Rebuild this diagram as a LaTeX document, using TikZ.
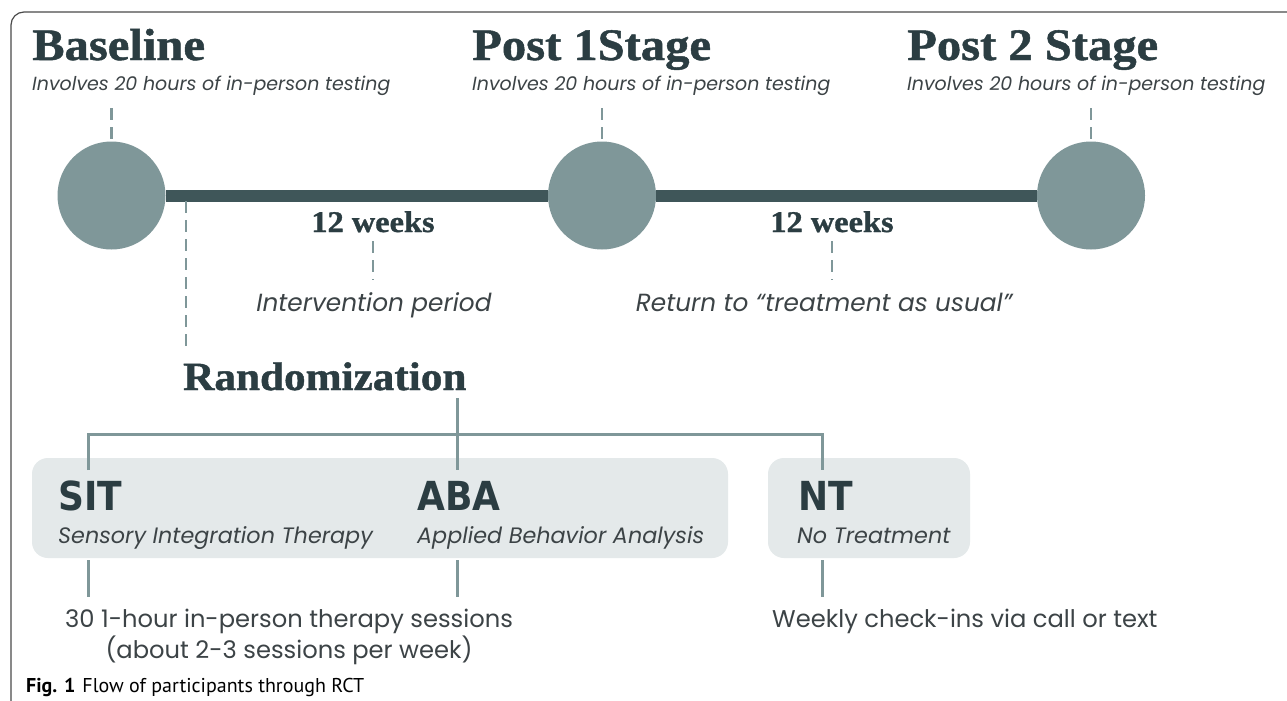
\documentclass[tikz,border=0pt]{standalone}
\usepackage{fontspec}
\setmainfont{Liberation Serif}
\setsansfont{Poppins}
\newfontfamily\headfont[FakeStretch=1.08,FakeBold=1.1]{Liberation Serif Bold}
\newfontfamily\armfont{DejaVu Sans Condensed Bold}
\newfontfamily\capfont{PT Sans}
\usetikzlibrary{positioning}

\definecolor{inkdark}{HTML}{2B3D42}
\definecolor{inkgray}{HTML}{3C4346}
\definecolor{dotgray}{HTML}{7F9799}
\definecolor{linedark}{HTML}{3F5659}
\definecolor{boxgray}{HTML}{E4E9EA}
\definecolor{framegray}{HTML}{4A4A4A}

\tikzset{
  stagehead/.style={font=\headfont\fontsize{45}{50}\selectfont, text=inkdark, anchor=base west, inner sep=0pt},
  stagenote/.style={font=\sffamily\itshape\fontsize{19}{23}\selectfont, text=inkgray, anchor=base west, inner sep=0pt},
  weeks/.style={font=\headfont\fontsize{30}{34}\selectfont, text=inkdark, anchor=base, inner sep=0pt},
  period/.style={stagenote, font=\sffamily\itshape\fontsize{24.8}{28}\selectfont, anchor=base},
  armhead/.style={font=\armfont\fontsize{40}{44}\selectfont, text=inkdark, anchor=base west, inner sep=0pt},
  armnote/.style={font=\sffamily\itshape\fontsize{22.3}{26}\selectfont, text=inkgray, anchor=base west, inner sep=0pt},
  armplan/.style={font=\sffamily\fontsize{24.2}{31}\selectfont, text=inkgray, inner sep=0pt},
  stagedot/.style={circle, fill=dotgray, minimum size=108pt, inner sep=0pt},
  timeline/.style={draw=linedark, line width=12pt},
  tick/.style={draw=dotgray, line width=2.6pt, dash pattern=on 12pt off 7pt},
  branch/.style={draw=dotgray, line width=3pt},
  armbox/.style={fill=boxgray, rounded corners=16pt, inner sep=0pt},
}

\begin{document}
\begin{tikzpicture}[x=1pt,y=-1pt]
  \useasboundingbox (0,0) rectangle (1287,701);
  \fill[white] (0,0) rectangle (1287,701);

  % Frame
  \draw[framegray, line width=1.2pt, rounded corners=13pt] (11,705) -- (11,12) -- (1295,12);

  % Stages
  \node[stagehead] (base) at (32,60) {Baseline};
  \node[stagehead] (post1) at (472,60) {Post 1Stage};
  \node[stagehead] (post2) at (907,60) {Post 2 Stage};
  \node[stagenote] (basenote) at (32,90) {Involves 20 hours of in-person testing};
  \node[stagenote] (post1note) at (472,90) {Involves 20 hours of in-person testing};
  \node[stagenote] (post2note) at (907,90) {Involves 20 hours of in-person testing};

  % Timeline
  \node[stagedot] (dot1) at (111.5,195.5) {};
  \node[stagedot] (dot2) at (602,195.5) {};
  \node[stagedot] (dot3) at (1091,195.5) {};
  \draw[timeline] (dot1) -- (dot2);
  \draw[timeline] (dot2) -- (dot3);
  \foreach \d/\x in {dot1/111.5,dot2/602,dot3/1091}
    \coordinate (\d top) at (\x,108);
  \foreach \d in {dot1,dot2,dot3}
    \draw[tick] (\d top) -- (\d.north);

  % Periods
  \node[weeks] (wk1) at (373,232) {12 weeks};
  \node[weeks] (wk2) at (832,232) {12 weeks};
  \node[period] (interv) at (374,311) {Intervention period};
  \node[period] (usual) at (824,311) {Return to “treatment as usual”};
  \coordinate (wk1end) at (373,280);
  \coordinate (wk2end) at (832,280);
  \draw[tick] (373,241) -- (wk1end);
  \draw[tick] (832,241) -- (wk2end);

  % Randomization
  \coordinate (randtop) at (186,201);
  \coordinate (randend) at (186,351);
  \draw[tick] (randtop) -- (randend);
  \node[stagehead, font=\headfont\fontsize{40}{44}\selectfont] (rand) at (183,390) {Randomization};

  % Arms
  \node[armbox, minimum width=696pt, minimum height=100pt] (armsbox) at (380,508) {};
  \node[armbox, minimum width=202pt, minimum height=100pt] (ntbox) at (869,508) {};
  \coordinate (fork) at (457,434);
  \coordinate (randfoot) at (457,398);
  \foreach \a/\x in {sit/88,aba/457,nt/822} {
    \coordinate (\a top) at (\x,470);
    \coordinate (\a low) at (\x,560);
    \coordinate (\a end) at (\x,597);
  }
  \draw[branch] (sittop) |- (fork) -| (nttop);
  \draw[branch] (randfoot) -- (abatop);
  \foreach \a in {sit,aba,nt}
    \draw[branch] (\a low) -- (\a end);

  \node[armhead] (sit) at (58,510) {SIT};
  \node[armhead] (aba) at (417,510) {ABA};
  \node[armhead] (nt) at (798,510) {NT};
  \node[armnote] (sitnote) at (58,543) {Sensory Integration Therapy};
  \node[armnote] (abanote) at (417,543) {Applied Behavior Analysis};
  \node[armnote] (ntnote) at (797,543) {No Treatment};

  % Schedules
  \node[armplan, align=center, anchor=north] (sessions) at (289,609) {30 1-hour in-person therapy sessions\\(about 2-3 sessions per week)};
  \node[armplan, anchor=base west] (checkins) at (772,627) {Weekly check-ins via call or text};

  % Caption
  \node[font=\capfont\fontsize{20}{23}\selectfont, anchor=base west, inner sep=0pt] (caption) at (26,692) {\textbf{Fig. 1}\hspace{7pt}Flow of participants through RCT};
\end{tikzpicture}
\end{document}
